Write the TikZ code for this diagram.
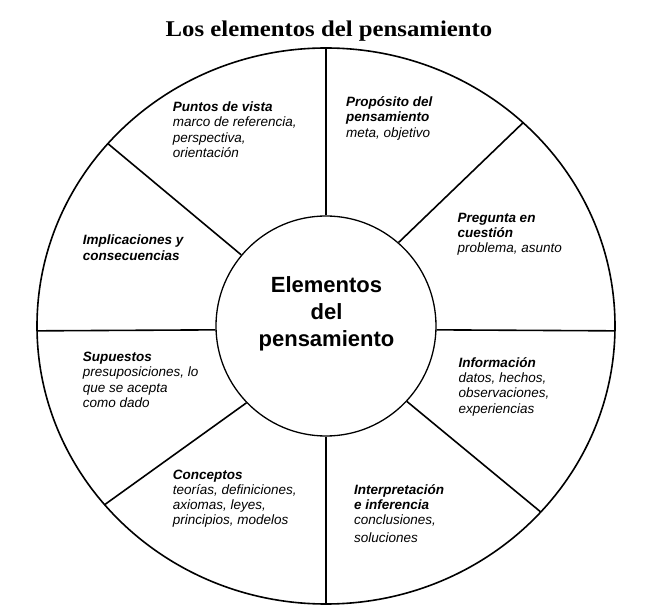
\documentclass[tikz,border=0pt]{standalone}
\usepackage{fontspec}
\setmainfont{Liberation Serif}
\setsansfont{Liberation Sans}
\newfontfamily\titlefont[FakeStretch=1.1]{Liberation Serif}

\begin{document}
\begin{tikzpicture}[x=1pt,y=1pt,
  rim/.style={line width=1.6pt},
  elem/.style={anchor=base west, align=left, inner sep=0pt,
    font=\sffamily\itshape\fontsize{13.5}{15.3}\selectfont},
  core/.style={circle, draw, line width=1.3pt, minimum size=220pt, inner sep=0pt}]

\def \rx {289}
\def \ry {278}

\useasboundingbox (-326,-281) rectangle (322,326);

\node[anchor=base, font=\titlefont\bfseries\fontsize{22.5}{26}\selectfont]
  (title) at (3,289) {Los elementos del pensamiento};

\draw[rim] (0,0) ellipse ({\rx} and {\ry});
\node[core] (centro) at (0,0) {};
\node[anchor=base, align=center, inner sep=0pt,
  font=\sffamily\bfseries\fontsize{22}{27}\selectfont]
  (centrotxt) at (0.5,-20.7) {Elementos\\ del\\ pensamiento};

% spokes: angle at the inner circle / angle at the rim
\foreach \a/\b in {90/90, 49/47, -2/-1, -43/-42, -90/-90, -136/-140, 182/181, 140/139}
{
  \draw[rim] (centro.\a) -- (\b:{\rx} and {\ry});
}

% the base of each text is its last line
\node[elem] (puntos) at (-153.3,168.6)
  {\bfseries Puntos de vista\\ marco de referencia,\\ perspectiva,\\ orientación};
\node[elem] (proposito) at (20,188.7)
  {\bfseries Propósito del\\ \bfseries pensamiento\\ meta, objetivo};
\node[elem] (pregunta) at (131.3,73.1)
  {\bfseries Pregunta en\\ \bfseries cuestión\\ problema, asunto};
\node[elem] (informacion) at (132.3,-87.2)
  {\bfseries Información\\ datos, hechos,\\ observaciones,\\ experiencias};
\node[elem] (interpretacion) at (28,-216)
  {\bfseries Interpretación\\ \bfseries e inferencia\\ conclusiones,\\[2pt] soluciones};
\node[elem] (conceptos) at (-153.3,-199)
  {\bfseries Conceptos\\ teorías, definiciones,\\ axiomas, leyes,\\ principios, modelos};
\node[elem] (supuestos) at (-243.3,-81.6)
  {\bfseries Supuestos\\ presuposiciones, lo\\ que se acepta\\ como dado};
\node[elem] (implicaciones) at (-243.3,65.7)
  {\bfseries Implicaciones y\\ \bfseries consecuencias};

\end{tikzpicture}
\end{document}
